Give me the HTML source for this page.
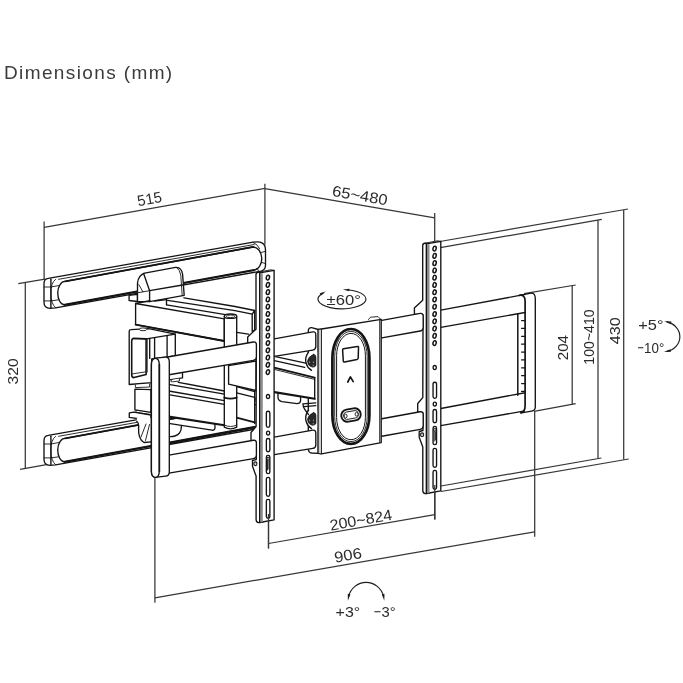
<!DOCTYPE html>
<html lang="en"><head><meta charset="utf-8"><title>Dimensions (mm)</title>
<style>
html,body{margin:0;padding:0;background:#fff;}
body{width:683px;height:683px;overflow:hidden;position:relative;font-family:"Liberation Sans",sans-serif;}
h1{position:absolute;left:4.4px;top:60.8px;margin:0;font-weight:normal;font-size:19px;line-height:24px;color:#3c3c3c;letter-spacing:1.38px;white-space:nowrap;will-change:transform;}
svg{position:absolute;left:0;top:0;will-change:transform;}
svg text{font-family:"Liberation Sans",sans-serif;}
</style></head><body>
<h1>Dimensions (mm)</h1>
<svg width="683" height="683" viewBox="0 0 683 683">
<line x1="44.10" y1="221.50" x2="44.10" y2="279.50" stroke="#363636" stroke-width="1.25" />
<line x1="44.10" y1="227.30" x2="264.90" y2="188.40" stroke="#363636" stroke-width="1.25" />
<line x1="264.90" y1="183.70" x2="264.90" y2="244.70" stroke="#363636" stroke-width="1.25" />
<line x1="264.90" y1="188.70" x2="434.70" y2="217.80" stroke="#363636" stroke-width="1.25" />
<line x1="434.70" y1="213.00" x2="434.70" y2="241.00" stroke="#363636" stroke-width="1.25" />
<line x1="18.30" y1="283.70" x2="45.00" y2="279.10" stroke="#363636" stroke-width="1.25" />
<line x1="20.10" y1="469.40" x2="47.80" y2="464.40" stroke="#363636" stroke-width="1.25" />
<line x1="25.30" y1="282.50" x2="25.30" y2="468.40" stroke="#363636" stroke-width="1.25" />
<line x1="154.90" y1="477.00" x2="154.90" y2="602.80" stroke="#363636" stroke-width="1.25" />
<line x1="154.90" y1="597.80" x2="534.70" y2="531.80" stroke="#363636" stroke-width="1.25" />
<line x1="534.70" y1="411.00" x2="534.70" y2="536.70" stroke="#363636" stroke-width="1.25" />
<line x1="268.50" y1="522.00" x2="268.50" y2="548.40" stroke="#363636" stroke-width="1.25" />
<line x1="268.50" y1="543.50" x2="434.80" y2="514.70" stroke="#363636" stroke-width="1.25" />
<line x1="434.80" y1="485.00" x2="434.80" y2="519.60" stroke="#363636" stroke-width="1.25" />
<line x1="524.00" y1="293.70" x2="575.70" y2="285.00" stroke="#363636" stroke-width="1.25" />
<line x1="572.20" y1="285.60" x2="572.20" y2="404.20" stroke="#363636" stroke-width="1.25" />
<line x1="534.00" y1="411.40" x2="575.70" y2="403.70" stroke="#363636" stroke-width="1.25" />
<line x1="436.00" y1="248.40" x2="601.80" y2="219.30" stroke="#363636" stroke-width="1.25" />
<line x1="598.00" y1="220.00" x2="598.00" y2="458.20" stroke="#363636" stroke-width="1.25" />
<line x1="441.00" y1="486.00" x2="601.40" y2="458.00" stroke="#363636" stroke-width="1.25" />
<line x1="437.00" y1="242.00" x2="628.00" y2="209.00" stroke="#363636" stroke-width="1.25" />
<line x1="623.70" y1="210.00" x2="623.70" y2="459.50" stroke="#363636" stroke-width="1.25" />
<line x1="441.00" y1="491.50" x2="628.70" y2="459.00" stroke="#363636" stroke-width="1.25" />
<text transform="translate(149.50 198.60) rotate(-10.2)" x="0" y="5.44" font-size="15.2" text-anchor="middle" fill="#2b2b2b" textLength="24.6" lengthAdjust="spacingAndGlyphs">515</text>
<text transform="translate(360.00 195.20) rotate(9.8)" x="0" y="5.44" font-size="15.2" text-anchor="middle" fill="#2b2b2b" textLength="56" lengthAdjust="spacingAndGlyphs">65~480</text>
<text transform="translate(12.75 371.40) rotate(-90)" x="0" y="5.44" font-size="15.2" text-anchor="middle" fill="#2b2b2b" textLength="26" lengthAdjust="spacingAndGlyphs">320</text>
<text transform="translate(360.80 519.80) rotate(-10)" x="0" y="5.44" font-size="15.2" text-anchor="middle" fill="#2b2b2b" textLength="63" lengthAdjust="spacingAndGlyphs">200~824</text>
<text transform="translate(347.90 554.90) rotate(-10)" x="0" y="5.44" font-size="15.2" text-anchor="middle" fill="#2b2b2b" textLength="27.6" lengthAdjust="spacingAndGlyphs">906</text>
<text transform="translate(562.70 347.60) rotate(-90)" x="0" y="5.44" font-size="15.2" text-anchor="middle" fill="#2b2b2b" textLength="25.2" lengthAdjust="spacingAndGlyphs">204</text>
<text transform="translate(588.40 337.00) rotate(-90)" x="0" y="5.44" font-size="15.2" text-anchor="middle" fill="#2b2b2b" textLength="55.3" lengthAdjust="spacingAndGlyphs">100~410</text>
<text transform="translate(615.00 330.70) rotate(-90)" x="0" y="5.44" font-size="15.2" text-anchor="middle" fill="#2b2b2b" textLength="27" lengthAdjust="spacingAndGlyphs">430</text>
<text x="638.30" y="330.00" font-size="15.2" fill="#2b2b2b" textLength="25.20" lengthAdjust="spacingAndGlyphs">+5°</text>
<text y="353.10" font-size="15.2" fill="#2b2b2b"><tspan x="637.40" textLength="6.40" lengthAdjust="spacingAndGlyphs">−</tspan><tspan x="644.10" textLength="20.20" lengthAdjust="spacingAndGlyphs">10°</tspan></text>
<text x="326.60" y="304.90" font-size="15.2" fill="#2b2b2b" textLength="34.30" lengthAdjust="spacingAndGlyphs">±60°</text>
<text x="335.60" y="617.00" font-size="15.2" fill="#2b2b2b" textLength="24.60" lengthAdjust="spacingAndGlyphs">+3°</text>
<text y="616.90" font-size="15.2" fill="#2b2b2b"><tspan x="373.80" textLength="7.40" lengthAdjust="spacingAndGlyphs">−</tspan><tspan x="381.50" textLength="14.10" lengthAdjust="spacingAndGlyphs">3°</tspan></text>
<path d="M44,283.5 Q44,278.7 48.3,278.3 L253.2,242.2 Q265.5,240.2 265.5,250 L265.5,265.5 Q265.5,271 258.5,271.6 L55.5,307.8 L50,308.4 Q44,308.2 44,302.3 Z" fill="#fff" stroke="#141414" stroke-width="1.35" stroke-linejoin="round" stroke-linecap="round" />
<path d="M58.60,279.30 L254.20,244.50" fill="none" stroke="#141414" stroke-width="0.9" stroke-linejoin="round" stroke-linecap="round" />
<path d="M65.2,281.4 L253.2,247 A8.7,11.6 0 0 1 254.2,270.1 L64.7,305 A7.2,11.8 0 0 1 65.2,281.4 Z" fill="#fff" stroke="#141414" stroke-width="1.35" stroke-linejoin="round" stroke-linecap="round" />
<path d="M65.20,281.30 L253.20,246.90" fill="none" stroke="#141414" stroke-width="1.8" stroke-linejoin="round" stroke-linecap="round" />
<path d="M64.70,304.80 L254.20,269.90" fill="none" stroke="#141414" stroke-width="2.0" stroke-linejoin="round" stroke-linecap="round" />
<path d="M50.90,279.30 L50.90,307.60" fill="none" stroke="#141414" stroke-width="1.4" stroke-linejoin="round" stroke-linecap="round" />
<path d="M44.20,287.00 L50.90,287.00" fill="none" stroke="#141414" stroke-width="0.9" stroke-linejoin="round" stroke-linecap="round" />
<path d="M44.20,300.90 L50.90,300.90" fill="none" stroke="#141414" stroke-width="0.9" stroke-linejoin="round" stroke-linecap="round" />
<path d="M55.5,279.4 Q50.6,283 50.9,293.4 Q50.9,304 55.5,307.6" fill="none" stroke="#141414" stroke-width="0.9" stroke-linejoin="round" stroke-linecap="round" />
<path d="M50.90,287.00 L58.60,285.60" fill="none" stroke="#141414" stroke-width="0.9" stroke-linejoin="round" stroke-linecap="round" />
<path d="M50.90,300.90 L58.60,299.80" fill="none" stroke="#141414" stroke-width="0.9" stroke-linejoin="round" stroke-linecap="round" />
<path d="M253.2,242.4 Q258,244.6 259.6,248.6 M265.2,251.4 L261.5,252.4 M265.2,263.5 L261.7,262.4 M258.6,271.4 Q258.6,268.8 256.6,268.4" fill="none" stroke="#141414" stroke-width="0.9" stroke-linejoin="round" stroke-linecap="round" />
<path d="M44,440.5 Q44,435.7 48.3,435.3 L253.2,399.2 Q265.5,397.2 265.5,407 L265.5,422.5 Q265.5,428 258.5,428.6 L55.5,464.8 L50,465.4 Q44,465.2 44,459.3 Z" fill="#fff" stroke="#141414" stroke-width="1.35" stroke-linejoin="round" stroke-linecap="round" />
<path d="M58.60,436.30 L254.20,401.50" fill="none" stroke="#141414" stroke-width="0.9" stroke-linejoin="round" stroke-linecap="round" />
<path d="M65.2,438.4 L253.2,404 A8.7,11.6 0 0 1 254.2,427.1 L64.7,462 A7.2,11.8 0 0 1 65.2,438.4 Z" fill="#fff" stroke="#141414" stroke-width="1.35" stroke-linejoin="round" stroke-linecap="round" />
<path d="M65.20,438.30 L253.20,403.90" fill="none" stroke="#141414" stroke-width="1.8" stroke-linejoin="round" stroke-linecap="round" />
<path d="M64.70,461.80 L254.20,426.90" fill="none" stroke="#141414" stroke-width="2.0" stroke-linejoin="round" stroke-linecap="round" />
<path d="M50.90,436.30 L50.90,464.60" fill="none" stroke="#141414" stroke-width="1.4" stroke-linejoin="round" stroke-linecap="round" />
<path d="M44.20,444.00 L50.90,444.00" fill="none" stroke="#141414" stroke-width="0.9" stroke-linejoin="round" stroke-linecap="round" />
<path d="M44.20,457.90 L50.90,457.90" fill="none" stroke="#141414" stroke-width="0.9" stroke-linejoin="round" stroke-linecap="round" />
<path d="M55.5,436.4 Q50.6,440 50.9,450.4 Q50.9,461 55.5,464.6" fill="none" stroke="#141414" stroke-width="0.9" stroke-linejoin="round" stroke-linecap="round" />
<path d="M50.90,444.00 L58.60,442.60" fill="none" stroke="#141414" stroke-width="0.9" stroke-linejoin="round" stroke-linecap="round" />
<path d="M50.90,457.90 L58.60,456.80" fill="none" stroke="#141414" stroke-width="0.9" stroke-linejoin="round" stroke-linecap="round" />
<path d="M253.2,399.4 Q258,401.6 259.6,405.6 M265.2,408.4 L261.5,409.4 M265.2,420.5 L261.7,419.4 M258.6,428.4 Q258.6,425.8 256.6,425.4" fill="none" stroke="#141414" stroke-width="0.9" stroke-linejoin="round" stroke-linecap="round" />
<path d="M129.10,295.40 L137.50,294.30 L137.50,301.50 L129.10,300.50 Z" fill="#fff" stroke="#141414" stroke-width="1.35" stroke-linejoin="round" stroke-linecap="round" />
<path d="M137.5,301.5 L137.5,283 Q138.2,275.4 144.6,273.1 L175.6,267.4 Q181.4,266.8 182.6,274.3 L184.2,295.4 L149.6,301.6 Z" fill="#fff" stroke="#141414" stroke-width="1.35" stroke-linejoin="round" stroke-linecap="round" />
<path d="M143.60,273.50 L149.60,290.70 L149.60,301.50" fill="none" stroke="#141414" stroke-width="1.35" stroke-linejoin="round" stroke-linecap="round" />
<path d="M149.60,290.70 L182.60,285.00" fill="none" stroke="#141414" stroke-width="1.35" stroke-linejoin="round" stroke-linecap="round" />
<path d="M138.80,284.60 L142.90,291.80" fill="none" stroke="#141414" stroke-width="0.9" stroke-linejoin="round" stroke-linecap="round" />
<path d="M137.50,292.80 L149.60,290.70" fill="none" stroke="#141414" stroke-width="0.9" stroke-linejoin="round" stroke-linecap="round" />
<path d="M176.4,267.4 Q180,269.4 180.8,275.4 L182.2,295.6" fill="none" stroke="#141414" stroke-width="0.9" stroke-linejoin="round" stroke-linecap="round" />
<path d="M129.2,331.2 Q129.2,329.6 131,329.6 L148.6,328.6 L175.3,334.2 L175.3,356 L151.7,358.9 L151.7,382.6 L129.2,384.5 Z" fill="#fff" stroke="#141414" stroke-width="1.35" stroke-linejoin="round" stroke-linecap="round" />
<ellipse cx="143.00" cy="329.30" rx="3.80" ry="1.40" fill="#fff" stroke="#141414" stroke-width="0.9"/>
<path d="M131.7,341 Q131.7,338.4 134,338.3 L146.1,338.9 L146.1,374.5 L134,377.6 Q131.7,377.6 131.7,375 Z" fill="none" stroke="#141414" stroke-width="1.6" stroke-linejoin="round" stroke-linecap="round" />
<path d="M133.20,338.60 L146.60,338.90 L175.30,334.10" fill="none" stroke="#141414" stroke-width="1.35" stroke-linejoin="round" stroke-linecap="round" />
<path d="M131.70,374.00 L146.10,371.80" fill="none" stroke="#141414" stroke-width="0.9" stroke-linejoin="round" stroke-linecap="round" />
<path d="M147.20,339.00 L147.20,372.00" fill="none" stroke="#141414" stroke-width="0.9" stroke-linejoin="round" stroke-linecap="round" />
<path d="M149.70,338.40 L149.70,358.40" fill="none" stroke="#141414" stroke-width="1.35" stroke-linejoin="round" stroke-linecap="round" />
<path d="M154.60,337.60 L154.60,358.40" fill="none" stroke="#141414" stroke-width="1.35" stroke-linejoin="round" stroke-linecap="round" />
<path d="M167.10,335.60 L167.10,358.40" fill="none" stroke="#141414" stroke-width="1.35" stroke-linejoin="round" stroke-linecap="round" />
<path d="M135.40,385.00 L135.40,387.60 L149.60,387.00 L149.60,384.00" fill="#fff" stroke="#141414" stroke-width="0.9" stroke-linejoin="round" stroke-linecap="round" />
<path d="M169.10,373.80 L182.50,372.20 L182.50,377.90 L169.10,379.90 Z" fill="#fff" stroke="#141414" stroke-width="1.35" stroke-linejoin="round" stroke-linecap="round" />
<path d="M171.20,380.00 L171.20,382.00 L179.40,381.00 L179.40,378.60" fill="#fff" stroke="#141414" stroke-width="0.9" stroke-linejoin="round" stroke-linecap="round" />
<path d="M135.60,303.50 L149.90,300.60" fill="none" stroke="#141414" stroke-width="1.35" stroke-linejoin="round" stroke-linecap="round" />
<path d="M184.00,297.80 L235.00,306.50 L254.70,310.50" fill="none" stroke="#141414" stroke-width="1.35" stroke-linejoin="round" stroke-linecap="round" />
<path d="M167.60,300.40 L235.00,310.60 L252.20,314.20" fill="none" stroke="#141414" stroke-width="1.35" stroke-linejoin="round" stroke-linecap="round" />
<path d="M166.50,299.60 L166.50,304.80" fill="none" stroke="#141414" stroke-width="1.35" stroke-linejoin="round" stroke-linecap="round" />
<path d="M154.70,301.00 L166.50,299.60" fill="none" stroke="#141414" stroke-width="1.35" stroke-linejoin="round" stroke-linecap="round" />
<path d="M166.50,304.80 L225.50,314.70" fill="none" stroke="#141414" stroke-width="1.35" stroke-linejoin="round" stroke-linecap="round" />
<path d="M135.60,303.50 L224.30,318.80 L224.30,341.00 L135.60,324.60 Z" fill="#fff" stroke="#141414" stroke-width="1.35" stroke-linejoin="round" stroke-linecap="round" />
<path d="M135.60,324.60 L224.30,341.00" fill="none" stroke="#141414" stroke-width="1.8" stroke-linejoin="round" stroke-linecap="round" />
<path d="M254.70,310.50 L254.70,330.00 L252.20,331.50 L252.20,314.20 Z" fill="#fff" stroke="#141414" stroke-width="1.35" stroke-linejoin="round" stroke-linecap="round" />
<path d="M236.70,332.30 L248.50,334.20" fill="none" stroke="#141414" stroke-width="1.35" stroke-linejoin="round" stroke-linecap="round" />
<path d="M134.90,389.20 L134.90,409.80 L151.00,412.30 L151.00,389.60 Z" fill="#fff" stroke="#141414" stroke-width="1.35" stroke-linejoin="round" stroke-linecap="round" />
<path d="M129.30,412.90 L134.00,412.20 L151.00,415.00 L151.00,420.50 L129.30,417.40 Z" fill="#fff" stroke="#141414" stroke-width="1.35" stroke-linejoin="round" stroke-linecap="round" />
<path d="M136.00,410.20 L136.00,412.40 L150.00,414.40" fill="none" stroke="#141414" stroke-width="0.9" stroke-linejoin="round" stroke-linecap="round" />
<path d="M168.60,382.00 L224.60,391.00 L224.60,425.30 L168.60,416.60 Z" fill="#fff" stroke="#141414" stroke-width="0" stroke-linejoin="round" stroke-linecap="round" />
<path d="M236.70,386.70 L254.70,391.70 L254.70,422.20 L236.70,417.20 Z" fill="#fff" stroke="#141414" stroke-width="0" stroke-linejoin="round" stroke-linecap="round" />
<path d="M136.8,418 L151,418 L151,442 L144,442.5 Q138,439 138.6,428 Q139,423 136.8,421.5 Z" fill="#fff" stroke="none" stroke-width="0" stroke-linejoin="round" stroke-linecap="round" />
<path d="M178.30,382.30 L224.40,391.00" fill="none" stroke="#141414" stroke-width="1.35" stroke-linejoin="round" stroke-linecap="round" />
<path d="M168.60,384.30 L224.40,394.10" fill="none" stroke="#141414" stroke-width="1.35" stroke-linejoin="round" stroke-linecap="round" />
<path d="M168.60,391.00 L224.40,400.70" fill="none" stroke="#141414" stroke-width="1.35" stroke-linejoin="round" stroke-linecap="round" />
<path d="M168.60,394.60 L224.40,404.30" fill="none" stroke="#141414" stroke-width="1.35" stroke-linejoin="round" stroke-linecap="round" />
<path d="M168.60,416.60 L224.40,425.30" fill="none" stroke="#141414" stroke-width="2.1" stroke-linejoin="round" stroke-linecap="round" />
<path d="M236.70,417.60 L254.70,422.40" fill="none" stroke="#141414" stroke-width="1.8" stroke-linejoin="round" stroke-linecap="round" />
<path d="M236.70,386.70 L254.70,391.70" fill="none" stroke="#141414" stroke-width="1.35" stroke-linejoin="round" stroke-linecap="round" />
<path d="M236.70,392.80 L254.70,397.30" fill="none" stroke="#141414" stroke-width="1.35" stroke-linejoin="round" stroke-linecap="round" />
<path d="M254.70,391.00 L254.70,423.50" fill="none" stroke="#141414" stroke-width="1.35" stroke-linejoin="round" stroke-linecap="round" />
<path d="M168.6,423.3 L212,430.2 Q215.2,430.4 215,427 L214.8,424.2" fill="none" stroke="#141414" stroke-width="1.35" stroke-linejoin="round" stroke-linecap="round" />
<path d="M168.6,436.6 Q176,437 179.5,433 Q181.6,430.5 181.4,425.6" fill="none" stroke="#141414" stroke-width="1.35" stroke-linejoin="round" stroke-linecap="round" />
<path d="M136.8,421.5 Q139,423 138.6,428 Q138,439 144,442.5 L151,441.8" fill="none" stroke="#141414" stroke-width="1.35" stroke-linejoin="round" stroke-linecap="round" />
<path d="M146.00,424.00 L141.00,437.00" fill="none" stroke="#141414" stroke-width="0.9" stroke-linejoin="round" stroke-linecap="round" />
<path d="M149.50,424.50 L145.50,440.50" fill="none" stroke="#141414" stroke-width="0.9" stroke-linejoin="round" stroke-linecap="round" />
<path d="M368.5,319.5 L370.5,317.2 L378,316.6 L380.4,319" fill="#fff" stroke="#141414" stroke-width="0.9" stroke-linejoin="round" stroke-linecap="round" />
<path d="M318.4,329.5 L311.6,327.7 Q308.3,327.6 308.3,331 L308.3,449.5 Q308.6,452.6 311.6,453 L318.4,453.4 Z" fill="#fff" stroke="#141414" stroke-width="1.35" stroke-linejoin="round" stroke-linecap="round" />
<path d="M274.30,356.40 L306.10,362.90 L314.70,377.60 L314.70,398.80 L274.30,392.10 Z" fill="#fff" stroke="#141414" stroke-width="0" stroke-linejoin="round" stroke-linecap="round" />
<path d="M314.70,377.60 L314.70,398.80" fill="none" stroke="#141414" stroke-width="1.35" stroke-linejoin="round" stroke-linecap="round" />
<path d="M274.30,356.40 L308.00,363.60" fill="none" stroke="#141414" stroke-width="1.35" stroke-linejoin="round" stroke-linecap="round" />
<path d="M274.30,360.70 L304.70,367.40" fill="none" stroke="#141414" stroke-width="1.35" stroke-linejoin="round" stroke-linecap="round" />
<path d="M274.30,367.60 L314.70,377.60" fill="none" stroke="#141414" stroke-width="1.8" stroke-linejoin="round" stroke-linecap="round" />
<path d="M274.30,369.40 L314.70,379.40" fill="none" stroke="#141414" stroke-width="0.9" stroke-linejoin="round" stroke-linecap="round" />
<path d="M274.30,392.10 L314.70,398.80" fill="none" stroke="#141414" stroke-width="2.1" stroke-linejoin="round" stroke-linecap="round" />
<path d="M278,393.5 L278,398 Q278.5,401 282,401.6 L297,403.6 Q300.6,403.6 300.6,400 L300.6,397" fill="none" stroke="#141414" stroke-width="1.35" stroke-linejoin="round" stroke-linecap="round" />
<path d="M168.80,443.60 L256.00,427.40" fill="none" stroke="#141414" stroke-width="1.85" stroke-linejoin="round" stroke-linecap="round" />
<path d="M224.3,316.3 L224.3,427.2 Q230.5,430.6 236.7,427.2 L236.7,316.3 Z" fill="#fff" stroke="#141414" stroke-width="1.35" stroke-linejoin="round" stroke-linecap="round" />
<ellipse cx="230.50" cy="316.20" rx="6.20" ry="2.20" fill="#fff" stroke="#141414" stroke-width="1.35"/>
<ellipse cx="230.50" cy="316.30" rx="4.30" ry="1.30" fill="#fff" stroke="#141414" stroke-width="0.9"/>
<path d="M224.3,397.6 Q230.5,399.8 236.7,397.6" fill="none" stroke="#141414" stroke-width="1.8" stroke-linejoin="round" stroke-linecap="round" />
<path d="M224.3,425 Q230.5,428.2 236.7,425" fill="none" stroke="#141414" stroke-width="0.9" stroke-linejoin="round" stroke-linecap="round" />
<path d="M228.60,365.60 L228.60,384.20 L256.00,390.50 L256.00,361.00 Z" fill="#fff" stroke="#141414" stroke-width="1.35" stroke-linejoin="round" stroke-linecap="round" />
<path d="M429.4,243.9 L425,243.2 Q422.7,243.2 422.7,245.5 L422.7,300.2 L414.4,307.9 L414.4,314.1 L423,315 L423,331 L422.8,397.6 L417.7,403.5 L417.7,411.8 L423,413 L423,430.5 L419.2,431.5 L419.2,437.3 L422.8,446.9 L422.8,490.5 Q422.8,493.4 425.5,493.7 L429.4,493.2 Z" fill="#fff" stroke="#141414" stroke-width="1.35" stroke-linejoin="round" stroke-linecap="round" />
<path d="M262.7,272.9 L258.3,272.2 Q256.0,272.2 256.0,274.5 L256.0,329.2 L247.7,336.9 L247.7,343.1 L256.3,344 L256.3,360 L256.1,426.6 L251.0,432.5 L251.0,440.8 L256.3,442 L256.3,459.5 L252.5,460.5 L252.5,466.3 L256.1,475.9 L256.1,519.5 Q256.1,522.4 258.8,522.7 L262.7,522.2 Z" fill="#fff" stroke="#141414" stroke-width="1.35" stroke-linejoin="round" stroke-linecap="round" />
<path d="M169.00,356.75 L253.40,341.98 Q256.40,341.53 256.40,345.03 L256.40,356.81 Q256.40,359.81 253.40,360.34 L169.00,374.75" fill="#fff" stroke="#141414" stroke-width="1.35" stroke-linejoin="round" stroke-linecap="round" />
<path d="M274.30,338.80 L312.80,331.87 Q315.80,331.37 315.80,334.87 L315.80,346.62 Q315.80,349.62 312.80,350.15 L274.30,356.40" fill="#fff" stroke="#141414" stroke-width="1.35" stroke-linejoin="round" stroke-linecap="round" />
<path d="M380.40,320.70 L420.20,313.46 Q423.20,312.98 423.20,316.48 L423.20,327.45 Q423.20,330.45 420.20,330.99 L380.40,338.20" fill="#fff" stroke="#141414" stroke-width="1.35" stroke-linejoin="round" stroke-linecap="round" />
<path d="M440.80,310.20 L525.00,294.43 L525.00,312.53 L440.80,327.40 Z" fill="#fff" stroke="none" stroke-width="0" stroke-linejoin="round" stroke-linecap="round" />
<line x1="440.80" y1="310.20" x2="525.00" y2="294.43" stroke="#141414" stroke-width="1.35" />
<line x1="440.80" y1="327.40" x2="525.00" y2="312.53" stroke="#141414" stroke-width="1.35" />
<path d="M169.00,455.05 L253.40,440.28 Q256.40,439.83 256.40,443.33 L256.40,455.11 Q256.40,458.11 253.40,458.64 L169.00,473.05" fill="#fff" stroke="#141414" stroke-width="1.35" stroke-linejoin="round" stroke-linecap="round" />
<path d="M274.30,437.10 L312.80,430.17 Q315.80,429.67 315.80,433.17 L315.80,444.92 Q315.80,447.92 312.80,448.45 L274.30,454.70" fill="#fff" stroke="#141414" stroke-width="1.35" stroke-linejoin="round" stroke-linecap="round" />
<path d="M380.40,419.00 L420.20,411.76 Q423.20,411.28 423.20,414.78 L423.20,425.75 Q423.20,428.75 420.20,429.29 L380.40,436.50" fill="#fff" stroke="#141414" stroke-width="1.35" stroke-linejoin="round" stroke-linecap="round" />
<path d="M440.80,408.50 L525.00,392.73 L525.00,410.83 L440.80,425.70 Z" fill="#fff" stroke="none" stroke-width="0" stroke-linejoin="round" stroke-linecap="round" />
<line x1="440.80" y1="408.50" x2="525.00" y2="392.73" stroke="#141414" stroke-width="1.35" />
<line x1="440.80" y1="425.70" x2="525.00" y2="410.83" stroke="#141414" stroke-width="1.35" />
<path d="M308.6,351.8 Q304.4,357.8 306.2,363.3 Q307.4,367.8 311.5,370.40000000000003 L318,370.40000000000003 L318,351.8 Z" fill="#fff" stroke="none" stroke-width="0" stroke-linejoin="round" stroke-linecap="round" />
<path d="M308.6,351.8 Q304.4,357.8 306.2,363.3 Q307.4,367.8 311.5,370.40000000000003" fill="none" stroke="#141414" stroke-width="1.35" stroke-linejoin="round" stroke-linecap="round" />
<path d="M313.4,354.3 Q316,354.6 316,357.2 L316,365.4 Q315,367.4 312,367.1 Q308,366 307.4,361.4 Q307.7,357 313.4,354.3 Z" fill="#272727" stroke="#1a1a1a" stroke-width="0.6" stroke-linejoin="round" stroke-linecap="round" />
<ellipse cx="309.6" cy="362.20" rx="0.55" ry="0.85" fill="#9a9a9a"/>
<ellipse cx="313.4" cy="362.20" rx="0.55" ry="0.85" fill="#9a9a9a"/>
<ellipse cx="313.2" cy="365.40" rx="0.55" ry="0.85" fill="#9a9a9a"/>
<path d="M308.6,410.0 Q304.4,416.0 306.2,421.5 Q307.4,426.0 311.5,428.6 L318,428.6 L318,410.0 Z" fill="#fff" stroke="none" stroke-width="0" stroke-linejoin="round" stroke-linecap="round" />
<path d="M308.6,410.0 Q304.4,416.0 306.2,421.5 Q307.4,426.0 311.5,428.6" fill="none" stroke="#141414" stroke-width="1.35" stroke-linejoin="round" stroke-linecap="round" />
<path d="M313.4,412.5 Q316,412.8 316,415.4 L316,423.59999999999997 Q315,425.59999999999997 312,425.3 Q308,424.2 307.4,419.59999999999997 Q307.7,415.2 313.4,412.5 Z" fill="#272727" stroke="#1a1a1a" stroke-width="0.6" stroke-linejoin="round" stroke-linecap="round" />
<ellipse cx="309.6" cy="420.40" rx="0.55" ry="0.85" fill="#9a9a9a"/>
<ellipse cx="313.4" cy="420.40" rx="0.55" ry="0.85" fill="#9a9a9a"/>
<ellipse cx="313.2" cy="423.60" rx="0.55" ry="0.85" fill="#9a9a9a"/>
<path d="M303,403.8 L315.8,402.9 M303,403.8 Q302.6,407 305.5,410.5 Q307.5,413 308.5,414.5 M304,406.6 L315.8,405.6" fill="none" stroke="#141414" stroke-width="1.35" stroke-linejoin="round" stroke-linecap="round" />
<path d="M151.4,365 Q151.4,358.3 155.5,358.2 L165.5,357.1 Q169.3,357 169.3,361.8 L169.3,472 Q169.3,475.8 165.5,476.2 L155.4,477.3 Q151.4,477.3 151.4,471 Z" fill="#fff" stroke="#141414" stroke-width="1.35" stroke-linejoin="round" stroke-linecap="round" />
<path d="M151.4,365 Q151.4,358.3 155.4,358.3 Q159.3,358.3 159.3,365 L159.3,471 Q159.3,477.3 155.4,477.3 Q151.4,477.3 151.4,471 Z" fill="#fff" stroke="#141414" stroke-width="1.35" stroke-linejoin="round" stroke-linecap="round" />
<line x1="159.40" y1="364.00" x2="159.40" y2="472.00" stroke="#141414" stroke-width="1.6" />
<path d="M525.1,294.4 L531,293.2 Q535.3,293 535.3,298.5 L535.3,407 Q535.3,410.6 531.5,411.2 L525.1,412.3 Z" fill="#fff" stroke="none" stroke-width="0" stroke-linejoin="round" stroke-linecap="round" />
<path d="M520,295.3 L531,293.2 Q535.3,293 535.3,298.5 L535.3,407 Q535.3,410.6 531.5,411.2 L521.5,412.9" fill="none" stroke="#141414" stroke-width="1.35" stroke-linejoin="round" stroke-linecap="round" />
<path d="M519.5,295.3 Q525.1,294.5 525.1,301 L525.1,405.5 Q525.1,412 520.8,412.9" fill="none" stroke="#141414" stroke-width="1.7" stroke-linejoin="round" stroke-linecap="round" />
<path d="M517.80,313.80 L517.80,395.20" fill="none" stroke="#141414" stroke-width="1.5" stroke-linejoin="round" stroke-linecap="round" />
<path d="M521.60,320.60 L525.00,320.60" fill="none" stroke="#141414" stroke-width="1.3" stroke-linejoin="round" stroke-linecap="round" />
<path d="M521.60,328.47 L525.00,328.47" fill="none" stroke="#141414" stroke-width="1.3" stroke-linejoin="round" stroke-linecap="round" />
<path d="M521.60,336.34 L525.00,336.34" fill="none" stroke="#141414" stroke-width="1.3" stroke-linejoin="round" stroke-linecap="round" />
<path d="M521.60,344.21 L525.00,344.21" fill="none" stroke="#141414" stroke-width="1.3" stroke-linejoin="round" stroke-linecap="round" />
<path d="M521.60,352.08 L525.00,352.08" fill="none" stroke="#141414" stroke-width="1.3" stroke-linejoin="round" stroke-linecap="round" />
<path d="M521.60,359.95 L525.00,359.95" fill="none" stroke="#141414" stroke-width="1.3" stroke-linejoin="round" stroke-linecap="round" />
<path d="M521.60,367.82 L525.00,367.82" fill="none" stroke="#141414" stroke-width="1.3" stroke-linejoin="round" stroke-linecap="round" />
<path d="M521.60,375.69 L525.00,375.69" fill="none" stroke="#141414" stroke-width="1.3" stroke-linejoin="round" stroke-linecap="round" />
<path d="M521.60,383.56 L525.00,383.56" fill="none" stroke="#141414" stroke-width="1.3" stroke-linejoin="round" stroke-linecap="round" />
<path d="M521.60,391.43 L525.00,391.43" fill="none" stroke="#141414" stroke-width="1.3" stroke-linejoin="round" stroke-linecap="round" />
<path d="M426.4,243.9 L440.8,241.4 L440.8,490.8 L426.4,493.5 Z" fill="#fff" stroke="#141414" stroke-width="1.35" stroke-linejoin="round" stroke-linecap="round" />
<rect x="427.00" y="244.20" width="2.5" height="249.00" fill="#8c8c8c"/>
<line x1="426.40" y1="244.00" x2="426.40" y2="493.40" stroke="#141414" stroke-width="1.0" />
<path d="M425,243.2 L437.5,240.8 L440.8,241.4" fill="none" stroke="#141414" stroke-width="0.9" stroke-linejoin="round" stroke-linecap="round" />
<ellipse cx="434.60" cy="248.60" rx="1.60" ry="2.35" fill="#fff" stroke="#141414" stroke-width="1.5" transform="rotate(12 434.60 248.60)"/>
<ellipse cx="434.60" cy="255.87" rx="1.60" ry="2.35" fill="#fff" stroke="#141414" stroke-width="1.5" transform="rotate(12 434.60 255.87)"/>
<ellipse cx="434.60" cy="263.14" rx="1.60" ry="2.35" fill="#fff" stroke="#141414" stroke-width="1.5" transform="rotate(12 434.60 263.14)"/>
<ellipse cx="434.60" cy="270.41" rx="1.60" ry="2.35" fill="#fff" stroke="#141414" stroke-width="1.5" transform="rotate(12 434.60 270.41)"/>
<ellipse cx="434.60" cy="277.68" rx="1.60" ry="2.35" fill="#fff" stroke="#141414" stroke-width="1.5" transform="rotate(12 434.60 277.68)"/>
<ellipse cx="434.60" cy="284.95" rx="1.60" ry="2.35" fill="#fff" stroke="#141414" stroke-width="1.5" transform="rotate(12 434.60 284.95)"/>
<ellipse cx="434.60" cy="292.22" rx="1.60" ry="2.35" fill="#fff" stroke="#141414" stroke-width="1.5" transform="rotate(12 434.60 292.22)"/>
<ellipse cx="434.60" cy="299.49" rx="1.60" ry="2.35" fill="#fff" stroke="#141414" stroke-width="1.5" transform="rotate(12 434.60 299.49)"/>
<ellipse cx="434.60" cy="306.76" rx="1.60" ry="2.35" fill="#fff" stroke="#141414" stroke-width="1.5" transform="rotate(12 434.60 306.76)"/>
<ellipse cx="434.60" cy="314.03" rx="1.60" ry="2.35" fill="#fff" stroke="#141414" stroke-width="1.5" transform="rotate(12 434.60 314.03)"/>
<ellipse cx="434.60" cy="321.30" rx="1.60" ry="2.35" fill="#fff" stroke="#141414" stroke-width="1.5" transform="rotate(12 434.60 321.30)"/>
<ellipse cx="434.60" cy="328.57" rx="1.60" ry="2.35" fill="#fff" stroke="#141414" stroke-width="1.5" transform="rotate(12 434.60 328.57)"/>
<ellipse cx="434.60" cy="335.84" rx="1.60" ry="2.35" fill="#fff" stroke="#141414" stroke-width="1.5" transform="rotate(12 434.60 335.84)"/>
<ellipse cx="434.60" cy="343.11" rx="1.60" ry="2.35" fill="#fff" stroke="#141414" stroke-width="1.5" transform="rotate(12 434.60 343.11)"/>
<ellipse cx="434.70" cy="367.60" rx="1.60" ry="2.10" fill="#fff" stroke="#141414" stroke-width="1.3"/>
<ellipse cx="434.80" cy="404.10" rx="1.60" ry="2.00" fill="#fff" stroke="#141414" stroke-width="1.3"/>
<rect x="433.05" y="382.20" width="3.5" height="16.10" rx="1.75" fill="#fff" stroke="#141414" stroke-width="1.35"/>
<rect x="433.05" y="409.50" width="3.5" height="13.20" rx="1.75" fill="#fff" stroke="#141414" stroke-width="1.35"/>
<rect x="433.05" y="426.40" width="3.5" height="18.30" rx="1.75" fill="#fff" stroke="#141414" stroke-width="1.35"/>
<rect x="433.05" y="448.30" width="3.5" height="19.00" rx="1.75" fill="#fff" stroke="#141414" stroke-width="1.35"/>
<rect x="433.05" y="470.30" width="3.5" height="19.00" rx="1.75" fill="#fff" stroke="#141414" stroke-width="1.35"/>
<path d="M434.2,430 L434.2,441 M435.6,432 L435.6,440" fill="none" stroke="#141414" stroke-width="0.9" stroke-linejoin="round" stroke-linecap="round" />
<ellipse cx="434.80" cy="429.80" rx="1.30" ry="1.50" fill="#bbb" stroke="#141414" stroke-width="0.9"/>
<ellipse cx="422.10" cy="434.80" rx="1.60" ry="1.90" fill="#d0d0d0" stroke="#141414" stroke-width="1.1"/>
<path d="M259.7,272.9 L274.1,270.4 L274.1,519.8 L259.7,522.5 Z" fill="#fff" stroke="#141414" stroke-width="1.35" stroke-linejoin="round" stroke-linecap="round" />
<rect x="260.30" y="273.20" width="2.5" height="249.00" fill="#8c8c8c"/>
<line x1="259.70" y1="273.00" x2="259.70" y2="522.40" stroke="#141414" stroke-width="1.0" />
<path d="M258.3,272.2 L270.8,269.8 L274.1,270.4" fill="none" stroke="#141414" stroke-width="0.9" stroke-linejoin="round" stroke-linecap="round" />
<ellipse cx="267.90" cy="277.60" rx="1.60" ry="2.35" fill="#fff" stroke="#141414" stroke-width="1.5" transform="rotate(12 267.90 277.60)"/>
<ellipse cx="267.90" cy="284.87" rx="1.60" ry="2.35" fill="#fff" stroke="#141414" stroke-width="1.5" transform="rotate(12 267.90 284.87)"/>
<ellipse cx="267.90" cy="292.14" rx="1.60" ry="2.35" fill="#fff" stroke="#141414" stroke-width="1.5" transform="rotate(12 267.90 292.14)"/>
<ellipse cx="267.90" cy="299.41" rx="1.60" ry="2.35" fill="#fff" stroke="#141414" stroke-width="1.5" transform="rotate(12 267.90 299.41)"/>
<ellipse cx="267.90" cy="306.68" rx="1.60" ry="2.35" fill="#fff" stroke="#141414" stroke-width="1.5" transform="rotate(12 267.90 306.68)"/>
<ellipse cx="267.90" cy="313.95" rx="1.60" ry="2.35" fill="#fff" stroke="#141414" stroke-width="1.5" transform="rotate(12 267.90 313.95)"/>
<ellipse cx="267.90" cy="321.22" rx="1.60" ry="2.35" fill="#fff" stroke="#141414" stroke-width="1.5" transform="rotate(12 267.90 321.22)"/>
<ellipse cx="267.90" cy="328.49" rx="1.60" ry="2.35" fill="#fff" stroke="#141414" stroke-width="1.5" transform="rotate(12 267.90 328.49)"/>
<ellipse cx="267.90" cy="335.76" rx="1.60" ry="2.35" fill="#fff" stroke="#141414" stroke-width="1.5" transform="rotate(12 267.90 335.76)"/>
<ellipse cx="267.90" cy="343.03" rx="1.60" ry="2.35" fill="#fff" stroke="#141414" stroke-width="1.5" transform="rotate(12 267.90 343.03)"/>
<ellipse cx="267.90" cy="350.30" rx="1.60" ry="2.35" fill="#fff" stroke="#141414" stroke-width="1.5" transform="rotate(12 267.90 350.30)"/>
<ellipse cx="267.90" cy="357.57" rx="1.60" ry="2.35" fill="#fff" stroke="#141414" stroke-width="1.5" transform="rotate(12 267.90 357.57)"/>
<ellipse cx="267.90" cy="364.84" rx="1.60" ry="2.35" fill="#fff" stroke="#141414" stroke-width="1.5" transform="rotate(12 267.90 364.84)"/>
<ellipse cx="267.90" cy="372.11" rx="1.60" ry="2.35" fill="#fff" stroke="#141414" stroke-width="1.5" transform="rotate(12 267.90 372.11)"/>
<ellipse cx="268.00" cy="396.60" rx="1.60" ry="2.10" fill="#fff" stroke="#141414" stroke-width="1.3"/>
<ellipse cx="268.10" cy="433.10" rx="1.60" ry="2.00" fill="#fff" stroke="#141414" stroke-width="1.3"/>
<rect x="266.35" y="411.20" width="3.5" height="16.10" rx="1.75" fill="#fff" stroke="#141414" stroke-width="1.35"/>
<rect x="266.35" y="438.50" width="3.5" height="13.20" rx="1.75" fill="#fff" stroke="#141414" stroke-width="1.35"/>
<rect x="266.35" y="455.40" width="3.5" height="18.30" rx="1.75" fill="#fff" stroke="#141414" stroke-width="1.35"/>
<rect x="266.35" y="477.30" width="3.5" height="19.00" rx="1.75" fill="#fff" stroke="#141414" stroke-width="1.35"/>
<rect x="266.35" y="499.30" width="3.5" height="19.00" rx="1.75" fill="#fff" stroke="#141414" stroke-width="1.35"/>
<path d="M267.5,459 L267.5,470 M268.90000000000003,461 L268.90000000000003,469" fill="none" stroke="#141414" stroke-width="0.9" stroke-linejoin="round" stroke-linecap="round" />
<ellipse cx="268.10" cy="458.80" rx="1.30" ry="1.50" fill="#bbb" stroke="#141414" stroke-width="0.9"/>
<ellipse cx="255.40" cy="463.80" rx="1.60" ry="1.90" fill="#d0d0d0" stroke="#141414" stroke-width="1.1"/>
<path d="M318.4,329.5 L379.7,319.6 L381.2,319.5 L381.2,442.6 L321.5,453.9 L318.4,453.4 Z" fill="#fff" stroke="#141414" stroke-width="1.35" stroke-linejoin="round" stroke-linecap="round" />
<path d="M318.40,329.50 L321.50,329.00 L321.50,453.90 L318.40,453.40 Z" fill="#cfcfcf" stroke="#141414" stroke-width="0.9" stroke-linejoin="round" stroke-linecap="round" />
<line x1="379.70" y1="319.60" x2="379.70" y2="442.90" stroke="#141414" stroke-width="0.9" />
<rect x="332.40" y="329.00" width="37.00" height="114.90" rx="18.50" ry="28.68" fill="#fff" stroke="#141414" stroke-width="2.7"/>
<rect x="334.70" y="331.40" width="32.50" height="110.20" rx="16.25" ry="25.19" fill="none" stroke="#141414" stroke-width="0.9"/>
<rect x="336.60" y="333.40" width="28.80" height="106.30" rx="14.40" ry="22.32" fill="none" stroke="#141414" stroke-width="1.0"/>
<path d="M343.5,348.7 L357.4,346.4 Q358.5,346.3 358.5,347.5 L358.2,358 Q358.2,359.1 357,359.4 L344.6,362 Q343.4,362.2 343.3,361 L342.6,349.9 Q342.5,348.9 343.5,348.7 Z" fill="#fff" stroke="#141414" stroke-width="1.5" stroke-linejoin="round" stroke-linecap="round" />
<path d="M347.8,382.0 L350.4,376.9 L353.2,381.6" fill="none" stroke="#141414" stroke-width="1.7" stroke-linejoin="round" stroke-linecap="round" />
<rect x="341.2" y="408.9" width="19.6" height="12.2" rx="6.1" fill="#fff" stroke="#141414" stroke-width="1.9" transform="rotate(-10 351 415)"/>
<rect x="343.6" y="411.3" width="14.8" height="7.4" rx="3.7" fill="none" stroke="#141414" stroke-width="0.9" transform="rotate(-10 351 415)"/>
<ellipse cx="345.60" cy="416.00" rx="1.50" ry="1.90" fill="#fff" stroke="#141414" stroke-width="0.9"/>
<ellipse cx="356.60" cy="414.20" rx="1.50" ry="1.90" fill="#fff" stroke="#141414" stroke-width="0.9"/>
<path d="M348.6,596.5 A18.0,18.4 0 0 1 383.6,596.5" fill="none" stroke="#1e1e1e" stroke-width="1.15" stroke-linejoin="round" stroke-linecap="round" />
<path d="M347.90,600.70 L347.75,593.77 L350.41,594.24 Z" fill="#1e1e1e" stroke="none"/>
<path d="M384.30,600.70 L381.79,594.24 L384.45,593.77 Z" fill="#1e1e1e" stroke="none"/>
<path d="M667,321.9 A16.97,15.2 0 0 1 667,351.4" fill="none" stroke="#1e1e1e" stroke-width="1.15" stroke-linejoin="round" stroke-linecap="round" />
<path d="M664.30,321.30 L671.41,321.61 L670.83,324.14 Z" fill="#1e1e1e" stroke="none"/>
<path d="M663.90,352.00 L670.43,349.16 L671.01,351.69 Z" fill="#1e1e1e" stroke="none"/>
<path d="M323,293.2 A24,9.7 0 1 0 347.5,289.7" fill="none" stroke="#1e1e1e" stroke-width="1.15" stroke-linejoin="round" stroke-linecap="round" />
<path d="M325.70,291.60 L320.94,295.48 L319.76,293.17 Z" fill="#1e1e1e" stroke="none"/>
<path d="M342.80,289.60 L349.36,288.64 L349.22,291.24 Z" fill="#1e1e1e" stroke="none"/>
<line x1="434.80" y1="485.00" x2="434.80" y2="519.60" stroke="#363636" stroke-width="1.25" />
<line x1="268.50" y1="514.00" x2="268.50" y2="548.40" stroke="#363636" stroke-width="1.25" />
</svg>
</body></html>
